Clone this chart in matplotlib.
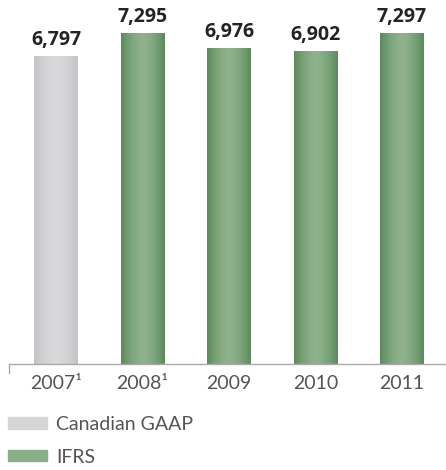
import numpy as np
import matplotlib.pyplot as plt
from matplotlib.colors import LinearSegmentedColormap
from matplotlib.patches import Patch

years = ["2007\u00b9", "2008\u00b9", "2009", "2010", "2011"]
values = [6797, 7295, 6976, 6902, 7297]
standard = ["Canadian GAAP", "IFRS", "IFRS", "IFRS", "IFRS"]

# edge / centre colours for the shaded bars
shades = {
    "Canadian GAAP": ("#c3c4c6", "#dadadc"),
    "IFRS": ("#5b8a5c", "#8fb28c"),
}
legend_colors = {"Canadian GAAP": "#d6d6d8", "IFRS": "#8aae88"}

fig = plt.figure(figsize=(4.46, 4.70), dpi=100)
ax = fig.add_axes([0.0202, 0.2255, 0.9798, 0.7745])

x = np.arange(len(years))
bars = ax.bar(x, values, width=0.503, color="none", edgecolor="none")

ramp = np.abs(np.linspace(-1, 1, 64)) ** 1.6
ramp = np.vstack([ramp, ramp])
for bar, std in zip(bars, standard):
    edge, centre = shades[std]
    cmap = LinearSegmentedColormap.from_list(std, [centre, edge])
    bx, bw, bh = bar.get_x(), bar.get_width(), bar.get_height()
    im = ax.imshow(ramp, cmap=cmap, aspect="auto", vmin=0, vmax=1,
                   extent=[bx, bx + bw, 0, bh], zorder=2, interpolation="bicubic")
    im.set_clip_path(bar)

for xi, v in zip(x, values):
    ax.annotate(f"{v:,}", (xi, v), xytext=(0, 4), textcoords="offset points",
                ha="center", va="bottom", fontsize=14, fontweight="bold",
                family="Open Sans", color="#232323")

ax.set_xlim(-0.543, 4.509)
ax.set_ylim(0, 8023)
ax.set_xticks(x)
ax.set_xticklabels(years, family="Lato", fontsize=14, color="#555555")
ax.tick_params(axis="x", length=0, pad=8)
ax.set_yticks([])
for side in ["top", "right", "left"]:
    ax.spines[side].set_visible(False)
ax.spines["bottom"].set_color("#a9a9a9")
ax.spines["bottom"].set_linewidth(1.0)
# little end tick on the left of the baseline
ax.plot([0, 0], [0, -0.025], transform=ax.transAxes, color="#a9a9a9",
        lw=1.0, clip_on=False)

handles = [Patch(color=legend_colors[s], label=s) for s in ["Canadian GAAP", "IFRS"]]
leg = fig.legend(handles=handles, loc="upper left", bbox_to_anchor=(0.018, 0.115),
                 frameon=False, handlelength=2.0, handleheight=0.52,
                 handletextpad=0.46, labelspacing=0.8, borderaxespad=0,
                 borderpad=0,
                 prop={"family": "Lato", "size": 14})
for t in leg.get_texts():
    t.set_color("#555555")

fig.savefig("out.png", dpi=100)
